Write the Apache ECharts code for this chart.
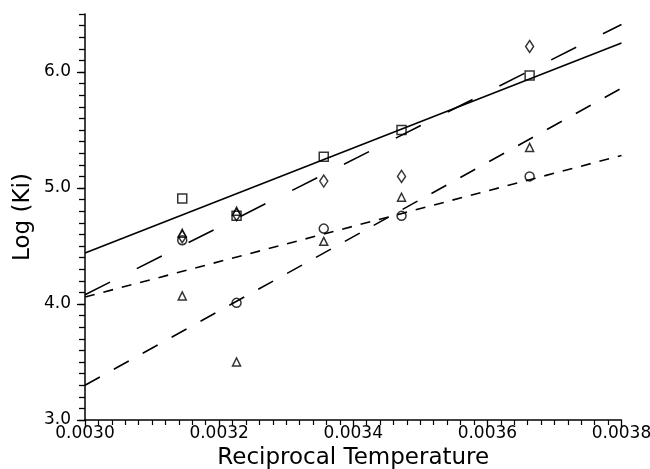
<!DOCTYPE html>
<html>
<head>
<meta charset="utf-8">
<script src="https://cdn.jsdelivr.net/npm/echarts@6/dist/echarts.min.js"></script>
<style>
  html, body { margin: 0; padding: 0; background: #fff; }
  #chart { width: 650px; height: 469px; }
</style>
</head>
<body>
<div id="chart"></div>
<script>
// Reciprocal temperature (1/K) of the measurements
const recipT = [0.003145, 0.003226, 0.003356, 0.003472, 0.003663];
// Log (Ki) values per marker type
const logKiSquare = [4.91, 4.76, 5.27, 5.50, 5.97];
const logKiDiamond = [4.58, 4.77, 5.06, 5.10, 6.22];
const logKiTriangle = [4.07, 3.50, 4.54, 4.92, 5.35];
const logKiTriangleExtra = [4.61, 4.80, null, null, null];
const logKiCircle = [4.55, 4.01, 4.65, 4.76, 5.10];
// Fitted lines, evaluated at the axis ends
const fitX = [0.0030, 0.0038];
const fitSquare = [4.44, 6.25];
const fitDiamond = [4.08, 6.41];
const fitTriangle = [3.30, 5.86];
const fitCircle = [4.06, 5.28];
// Axis tick values
const xTicks = [0.0030, 0.0032, 0.0034, 0.0036, 0.0038];
const yTicks = [3.0, 4.0, 5.0, 6.0];

const FONT = 'DejaVu Sans';
const pairs = (xs, ys) => xs.map((x, i) => [x, ys[i]]).filter(p => p[1] !== null);

function scatter(name, ys, symbol, size) {
  return {
    name: name, type: 'scatter', data: pairs(recipT, ys),
    symbol: symbol, symbolSize: size, z: 3,
    itemStyle: { color: 'none', borderColor: '#000', borderWidth: 1.5 }
  };
}
function fit(name, ys, dash) {
  return {
    name: name, type: 'line', data: pairs(fitX, ys), symbol: 'none',
    lineStyle: { color: '#000', width: 1.6, type: dash }, z: 2, silent: true
  };
}

const chart = echarts.init(document.getElementById('chart'), null, { renderer: 'canvas' });
chart.setOption({
  animation: false,
  backgroundColor: '#fff',
  grid: { left: 85, right: 28.5, top: 14, bottom: 49, containLabel: false, outerBoundsMode: 'none' },
  xAxis: {
    type: 'value', min: 0.0030, max: 0.0038, interval: 0.0002,
    name: 'Reciprocal Temperature', nameLocation: 'middle', nameGap: 25,
    nameTextStyle: { fontFamily: FONT, fontSize: 23, color: '#000' },
    axisLine: { lineStyle: { color: '#000', width: 1.5 } },
    axisTick: { length: 7, lineStyle: { color: '#000', width: 1.3 } },
    minorTick: { show: true, splitNumber: 10, length: 5, lineStyle: { color: '#000', width: 1.2 } },
    splitLine: { show: false },
    axisLabel: {
      fontFamily: FONT, fontSize: 17, color: '#000', margin: 5,
      formatter: v => xTicks.some(t => Math.abs(t - v) < 1e-9) ? v.toFixed(4) : ''
    }
  },
  yAxis: [{
    type: 'value', min: 3.0, max: 6.5, interval: 0.1,
    name: 'Log (Ki)', nameLocation: 'middle', nameGap: 50,
    nameTextStyle: { fontFamily: FONT, fontSize: 23, color: '#000' },
    axisLine: { lineStyle: { color: '#000', width: 1.5 } },
    axisTick: { length: 6, lineStyle: { color: '#000', width: 1.3 } },
    splitLine: { show: false },
    axisLabel: { show: false }
  }, {
    type: 'value', min: 3.0, max: 6.5, interval: 1, position: 'left',
    axisLine: { show: false },
    axisTick: { length: 8, lineStyle: { color: '#000', width: 1.3 } },
    splitLine: { show: false },
    axisLabel: {
      fontFamily: FONT, fontSize: 17, color: '#000', margin: 14, showMaxLabel: false,
      formatter: v => yTicks.some(t => Math.abs(t - v) < 1e-9) ? v.toFixed(1) : ''
    }
  }],
  series: [
    fit('Square fit', fitSquare, 'solid'),
    fit('Diamond fit', fitDiamond, [28, 30]),
    fit('Triangle fit', fitTriangle, [17, 16]),
    fit('Circle fit', fitCircle, [10, 9]),
    scatter('Square', logKiSquare, 'rect', 9),
    scatter('Diamond', logKiDiamond, 'diamond', [8, 12]),
    scatter('Triangle', logKiTriangle, 'triangle', 8),
    scatter('Triangle 2', logKiTriangleExtra, 'triangle', 8),
    scatter('Circle', logKiCircle, 'circle', 9)
  ]
});
</script>
</body>
</html>
